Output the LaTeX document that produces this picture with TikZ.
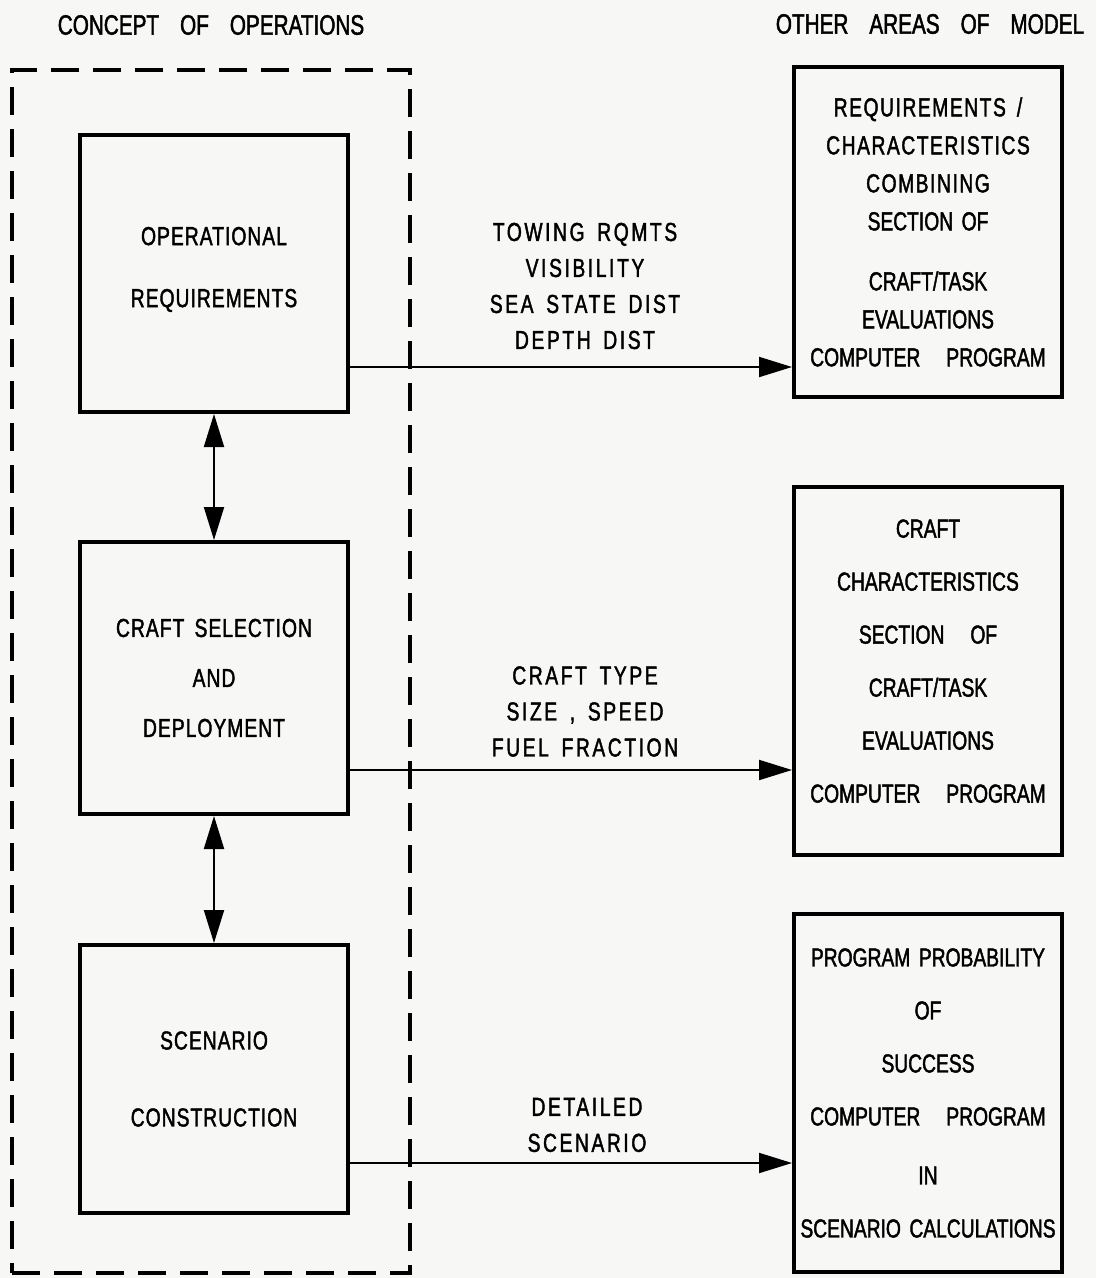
\documentclass[tikz,border=0pt]{standalone}
\usepackage{fontspec}
\setmainfont{Liberation Sans}[FakeStretch=0.74, WordSpace=1.6, FakeBold=1.6]
\newfontfamily\spacedfont{Liberation Sans}[FakeStretch=0.74, WordSpace=1.6,
  FakeBold=1.6, LetterSpace=6]
\newfontfamily\flowfont{Liberation Sans}[FakeStretch=0.74, WordSpace=1.6,
  FakeBold=1.6, LetterSpace=10]
\newfontfamily\leftfont{Liberation Sans}[FakeStretch=0.74, WordSpace=1.6,
  FakeBold=1.6, LetterSpace=4]
\definecolor{paper}{RGB}{247,247,245}
\usetikzlibrary{
  arrows.meta      % plain triangle arrow heads
}
\tikzset{
  every node/.style = {
    inner sep = 0pt,
    align = center
  },
  box/.style = {
    rectangle,
    draw,
    line width = 4pt,
    minimum width = 268pt,
    font = \fontsize{26}{53}\selectfont
  },
  frame/.style = {
    rectangle,
    draw,
    line width = 4pt,
    dash pattern = on 28pt off 14pt,
    minimum width = 398pt,
    minimum height = 1203pt
  },
  header/.style = {font = \fontsize{28}{32}\selectfont},
  flowtext/.style = {font = \flowfont\fontsize{26}{36}\selectfont},
  flow/.style = {->, line width = 2pt},
  link/.style = {<->, line width = 2pt},
  >={Triangle[length=33pt, width=20pt]}  % arrow type
}

\begin{document}
\begin{tikzpicture}[x=1pt, y=-1pt]

  \fill[paper] (0,0) rectangle (1096,1278);
  \useasboundingbox (0,0) rectangle (1096,1278);

  %% headers
  \node[header] (cophdr) at (211,25)
    {CONCEPT\hspace{0.75em}OF\hspace{0.75em}OPERATIONS};
  \node[header] (othhdr) at (930,24)
    {OTHER\hspace{0.75em}AREAS\hspace{0.75em}OF\hspace{0.75em}MODEL};

  %% concept of operations
  \node[frame] (concept) at (211,671.5) {};

  \node[box, minimum height=277pt, text depth=13pt,
        font=\leftfont\fontsize{26}{62}\selectfont] (OR) at (214,273.5)
    {OPERATIONAL\\REQUIREMENTS};

  \node[box, minimum height=272pt,
        font=\leftfont\fontsize{26}{50}\selectfont] (CS) at (214,678)
    {CRAFT SELECTION\\AND\\DEPLOYMENT};

  \node[box, minimum height=268pt,
        font=\leftfont\fontsize{26}{77}\selectfont] (SC) at (214,1079)
    {SCENARIO\\CONSTRUCTION};

  %% other areas of model
  \node[box, minimum height=330pt,
        font=\fontsize{26}{38}\selectfont] (RC) at (928,232)
    {\spacedfont REQUIREMENTS /\\\spacedfont CHARACTERISTICS\\
     \spacedfont COMBINING\\\rmfamily SECTION OF\\[22pt]
     \rmfamily CRAFT/TASK\\\rmfamily EVALUATIONS\\
     \rmfamily COMPUTER\quad PROGRAM};

  \node[box, minimum height=368pt, text depth=20pt] (CC) at (928,671)
    {CRAFT\\CHARACTERISTICS\\SECTION\quad OF\\CRAFT/TASK\\
     EVALUATIONS\\COMPUTER\quad PROGRAM};

  \node[box, minimum height=358pt] (PS) at (928,1093)
    {PROGRAM PROBABILITY\\OF\\SUCCESS\\COMPUTER\quad PROGRAM\\[6pt]
     IN\\SCENARIO CALCULATIONS};

  %% flow labels
  \node[flowtext] (rqmts) at (585,286)
    {TOWING RQMTS\\VISIBILITY\\SEA STATE DIST\\DEPTH DIST};
  \node[flowtext] (ctype) at (585,711.5)
    {CRAFT TYPE\\SIZE , SPEED\\FUEL FRACTION};
  \node[flowtext] (detsc) at (587,1125)
    {DETAILED\\SCENARIO};

  %% arrows
  \coordinate (t1) at ([yshift=-93.5pt]OR.east);
  \coordinate (t2) at ([yshift=-92pt]CS.east);
  \coordinate (t3) at ([yshift=-84pt]SC.east);

  \draw[flow] (t1) -- (t1 -| RC.west);
  \draw[flow] (t2) -- (t2 -| CC.west);
  \draw[flow] (t3) -- (t3 -| PS.west);

  \draw[link] (OR) -- (CS);
  \draw[link] (CS) -- (SC);

\end{tikzpicture}
\end{document}
